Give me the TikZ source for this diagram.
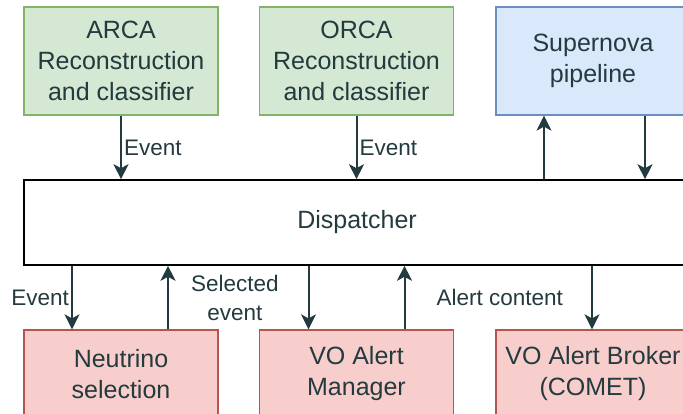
\documentclass[tikz,border=0pt]{standalone}
\usepackage{fontspec}
\setmainfont{Liberation Sans}
\usetikzlibrary{arrows.meta}
\usetikzlibrary{positioning}

\definecolor{inkcol}{HTML}{233A3E}
\definecolor{greenfill}{HTML}{D5E8D4}
\definecolor{greendraw}{HTML}{82B366}
\definecolor{bluefill}{HTML}{DAE8FC}
\definecolor{bluedraw}{HTML}{6C8EBF}
\definecolor{redfill}{HTML}{F8CECC}
\definecolor{reddraw}{HTML}{B85450}

\tikzset{
  block/.style={minimum width=194pt, minimum height=108pt, align=center, line width=1.3pt, text=inkcol, font=\fontsize{25}{31}\selectfont},
  inblock/.style={block, draw=greendraw, fill=greenfill},
  svblock/.style={block, draw=bluedraw, fill=bluefill},
  outblock/.style={block, draw=reddraw, fill=redfill, minimum height=88pt},
  flow/.style={draw=inkcol, line width=2pt, -{Stealth[length=15pt,width=15pt,inset=4pt]}},
  flowlabel/.style={text=inkcol, font=\fontsize{22.5}{29}\selectfont, align=center, inner sep=2pt}
}

\begin{document}
\begin{tikzpicture}[x=1pt,y=-1pt]
\useasboundingbox (0,0) rectangle (683,414);
\clip (0,0) rectangle (683,414);

\node[inblock] (arca) at (121, 61) {ARCA\\Reconstruction\\and classifier};
\node[inblock] (orca) at (356.5, 61) {ORCA\\Reconstruction\\and classifier};
\node[svblock] (supernova) at (593, 61) {Supernova\\pipeline};

\node[block, draw=black, minimum width=666pt, minimum height=85pt, line width=1.6pt] (dispatcher) at (357, 222.5) {Dispatcher};

\node[outblock] (neutrino) at (121, 374) {Neutrino\\selection};
\node[outblock] (alertmanager) at (356.5, 374) {VO Alert\\Manager};
\node[outblock] (broker) at (593, 374) {VO Alert Broker\\(COMET)};

\draw[flow] (arca.south) -- (arca.south |- dispatcher.north) node[flowlabel, midway, right] (arcaevent) {Event};
\draw[flow] (orca.south) -- (orca.south |- dispatcher.north) node[flowlabel, midway, right] (orcaevent) {Event};
\draw[flow] ([xshift=-49pt]supernova.south |- dispatcher.north) -- ([xshift=-49pt]supernova.south);
\draw[flow] ([xshift=52pt]supernova.south) -- ([xshift=52pt]supernova.south |- dispatcher.north);

\draw[flow] ([xshift=-49pt]neutrino.north |- dispatcher.south) -- ([xshift=-49pt]neutrino.north) node[flowlabel, midway, left] (neutrinoevent) {Event};
\draw[flow] ([xshift=47pt]neutrino.north) -- ([xshift=47pt]neutrino.north |- dispatcher.south) node[flowlabel, midway, right=20pt] (selected) {Selected\\event};
\draw[flow] ([xshift=-48pt]alertmanager.north |- dispatcher.south) -- ([xshift=-48pt]alertmanager.north);
\draw[flow] ([xshift=48pt]alertmanager.north) -- ([xshift=48pt]alertmanager.north |- dispatcher.south);
\draw[flow] ([xshift=-1pt]broker.north |- dispatcher.south) -- ([xshift=-1pt]broker.north) node[flowlabel, midway, left=26pt] (alertcontent) {Alert content};

\end{tikzpicture}
\end{document}
